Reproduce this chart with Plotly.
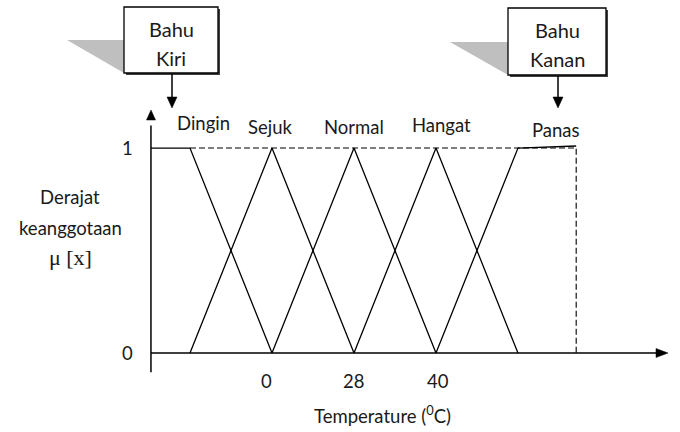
import plotly.graph_objects as go

# ---- data ----
set_names = ["Dingin", "Sejuk", "Normal", "Hangat", "Panas"]
set_x = [[0.524, 1, 2], [1, 2, 3], [2, 3, 4], [3, 4, 5], [4, 5, 5.71]]
set_y = [[1, 1, 0], [0, 1, 0], [0, 1, 0], [0, 1, 0], [0, 1, 1.01]]
label_x = [1.16, 1.98, 3.0, 4.07, 5.46]
label_y = [1.12, 1.105, 1.105, 1.11, 1.09]
tick_pos = [1.93, 3.0, 4.02]
tick_labels = ["0", "28", "40"]
y_ticks = [0, 1]
x_axis_at = 0.524
x_end = 5.71

W, H = 680, 432
FONT = "Lato"
TXT = "#1a1a1a"

def px(x):
    return x / W

def py(y):
    return 1 - y / H

fig = go.Figure()

# membership functions
for name, xs, ys in zip(set_names, set_x, set_y):
    fig.add_trace(go.Scatter(x=xs, y=ys, mode="lines", name=name,
                             line=dict(color="black", width=1.3),
                             showlegend=False, hoverinfo="skip"))

# dashed guide lines
fig.add_trace(go.Scatter(x=[1, x_end, x_end], y=[1, 1, 0], mode="lines",
                         line=dict(color="black", width=1.1, dash="6px,3px"),
                         showlegend=False, hoverinfo="skip"))

shapes = []
# axes
shapes.append(dict(type="line", xref="x", yref="y", x0=x_axis_at, x1=x_axis_at,
                   y0=-0.093, y1=1.11, line=dict(color="black", width=1.5)))
shapes.append(dict(type="line", xref="x", yref="y", x0=x_axis_at, x1=6.72,
                   y0=0, y1=0, line=dict(color="black", width=1.5)))

def tri(points):
    p = "M " + " L ".join(f"{px(a)},{py(b)}" for a, b in points) + " Z"
    return dict(type="path", xref="paper", yref="paper", path=p,
                fillcolor="black", line=dict(color="black", width=0.5))

shapes.append(tri([(151, 110), (146.5, 120), (155.5, 120)]))
shapes.append(tri([(668, 353), (656, 348.5), (656, 357.5)]))

def box(x0, y0, x1, y1, sx0, sy0):
    shapes.append(dict(type="path", xref="paper", yref="paper",
                       path=f"M {px(sx0)},{py(sy0)} L {px(x0)},{py(sy0)} L {px(x0)},{py(y1)} Z",
                       fillcolor="#bfbfbf", line=dict(width=0)))
    shapes.append(dict(type="rect", xref="paper", yref="paper",
                       x0=px(x0 + 2), x1=px(x1 + 2), y0=py(y1 + 2), y1=py(y0 + 2),
                       fillcolor="#404040", line=dict(width=0)))
    shapes.append(dict(type="rect", xref="paper", yref="paper",
                       x0=px(x0), x1=px(x1), y0=py(y1), y1=py(y0),
                       fillcolor="white", line=dict(color="black", width=1.3)))
    cx = (x0 + x1) / 2
    shapes.append(dict(type="line", xref="paper", yref="paper",
                       x0=px(cx + 1), x1=px(cx + 1), y0=py(y1 + 1), y1=py(97),
                       line=dict(color="black", width=1.5)))
    shapes.append(tri([(cx + 1, 108), (cx - 4, 97), (cx + 6, 97)]))
    return cx

annots = []
cx1 = box(124, 7, 218, 73, 67, 40)
cx2 = box(508, 8, 606, 75, 450, 42)
for cx, lines, ys in [(cx1, ["Bahu", "Kiri"], [29, 58]), (cx2, ["Bahu", "Kanan"], [30, 59])]:
    for t, yy in zip(lines, ys):
        annots.append(dict(x=px(cx), y=py(yy), xref="paper", yref="paper", text=t,
                           showarrow=False, xanchor="center", yanchor="middle",
                           font=dict(family=FONT, size=20, color=TXT)))

for name, lx, ly in zip(set_names, label_x, label_y):
    annots.append(dict(x=lx, y=ly, xref="x", yref="y", text=name, showarrow=False,
                       xanchor="center", yanchor="middle",
                       font=dict(family=FONT, size=18.5, color=TXT)))

for tp, tl in zip(tick_pos, tick_labels):
    annots.append(dict(x=tp, y=-0.135, xref="x", yref="y", text=tl, showarrow=False,
                       xanchor="center", yanchor="middle",
                       font=dict(family=FONT, size=18.5, color=TXT)))
for yt in y_ticks:
    annots.append(dict(x=0.24, y=yt, xref="x", yref="y", text=str(yt), showarrow=False,
                       xanchor="center", yanchor="middle",
                       font=dict(family=FONT, size=18.5, color=TXT)))

annots.append(dict(x=px(382), y=py(414), xref="paper", yref="paper",
                   text="Temperature (<sup>0</sup>C)", showarrow=False,
                   xanchor="center", yanchor="middle",
                   font=dict(family=FONT, size=18.5, color=TXT)))
for t, yy, fam, sz in [("Derajat", 197, FONT, 18.5), ("keanggotaan", 228, FONT, 18.5),
                       ("μ [x]", 257, "Liberation Serif", 22)]:
    annots.append(dict(x=px(70), y=py(yy), xref="paper", yref="paper", text=t,
                       showarrow=False, xanchor="center", yanchor="middle",
                       font=dict(family=fam, size=sz, color=TXT)))

fig.update_layout(
    width=W, height=H, margin=dict(l=0, r=0, t=0, b=0),
    paper_bgcolor="white", plot_bgcolor="white",
    xaxis=dict(range=[-1.317, 6.976], visible=False, fixedrange=True),
    yaxis=dict(range=[-0.385, 1.722], visible=False, fixedrange=True),
    shapes=shapes, annotations=annots, showlegend=False,
)

fig.write_html("out.html", config={"displayModeBar": False},
               post_script="document.body.style.margin='0';document.body.style.overflow='hidden';")
